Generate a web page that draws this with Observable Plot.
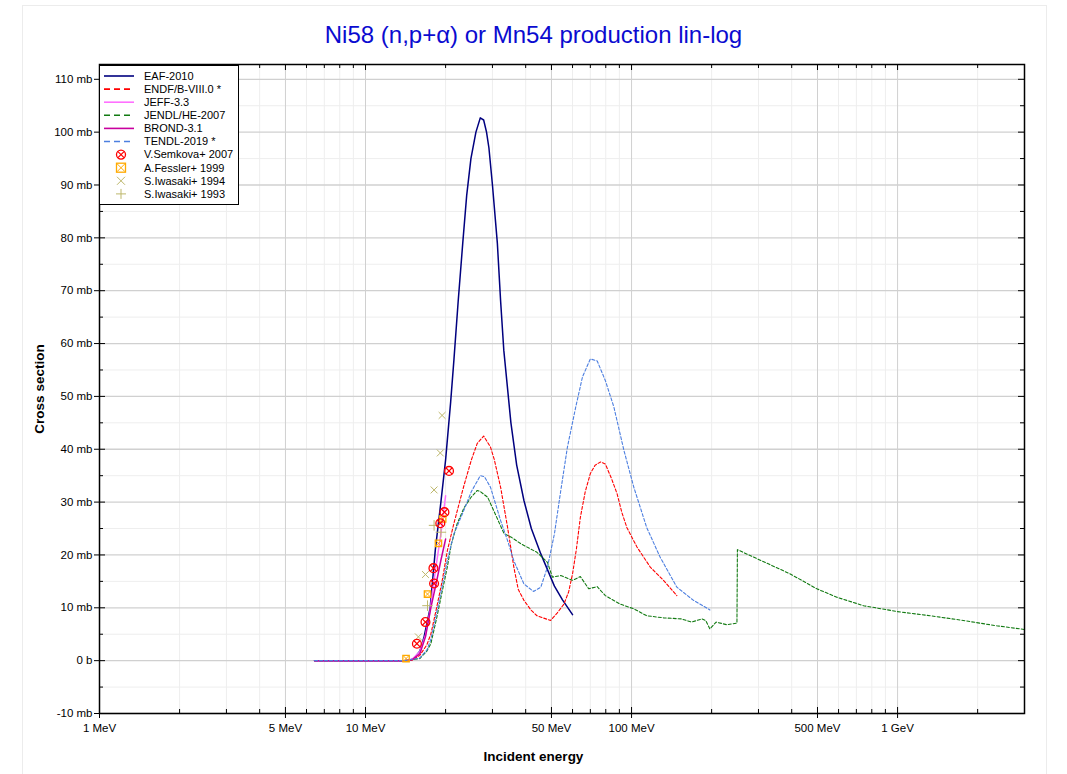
<!DOCTYPE html>
<html><head><meta charset="utf-8">
<script src="https://cdn.jsdelivr.net/npm/d3@7"></script>
<script src="https://cdn.jsdelivr.net/npm/@observablehq/plot@0.6"></script>
<style>
body{margin:0;background:#fff;font-family:"Liberation Sans",Arial,sans-serif;}
#wrap{position:relative;width:1067px;height:774px;overflow:hidden;background:#fff;}
#border{position:absolute;left:22px;top:5px;width:1023px;height:800px;border:1px solid #ececec;}
#title{position:absolute;left:0;top:21px;width:1067px;text-align:center;font-size:24px;color:#0b0bd0;}
#xlab{position:absolute;left:0;top:749px;width:1067px;text-align:center;font-size:13.5px;font-weight:bold;color:#000;}
#ylab{position:absolute;left:39px;top:389px;transform:translate(-50%,-50%) rotate(-90deg);font-size:13.5px;font-weight:bold;white-space:nowrap;color:#000;}
#chart{position:absolute;left:0;top:0;}
#legend{position:absolute;left:99px;top:65px;}
</style></head><body>
<div id="wrap">
<div id="border"></div>
<div id="chart"></div>
<div id="title">Ni58 (n,p+α) or Mn54 production lin-log</div>
<div id="xlab">Incident energy</div>
<div id="ylab">Cross section</div>
<div id="legend"></div>
</div>
<script>
// ---- data (energies in MeV, cross sections in mb) ----
const eafE = [6.43, 10, 14, 14.6, 15.2, 16, 16.6, 17.5, 18.3, 19.2, 20, 20.9, 21.5, 22.3, 23.2, 24, 24.9, 26, 27, 27.8, 28.5, 29.1, 30, 31.3, 32.2, 33.1, 35.2, 37, 39.4, 42, 45.6, 51.3, 55, 60];
const eafXS = [0, 0, 0, 0.05, 0.4, 1.8, 4.5, 10, 21, 30, 38, 49, 57, 68, 79, 88, 95, 100, 102.7, 102.3, 100, 97, 90, 79, 68, 58.7, 45, 37, 30.3, 25, 20.2, 14.1, 11.5, 8.7];

const endfE = [6.43, 14, 15, 16, 17, 17.6, 18.5, 19.4, 20.3, 21.5, 23.4, 25, 26.3, 27.8, 29.5, 30.5, 32.2, 34.2, 36.1, 37.5, 39.4, 42, 44.1, 49.6, 52.5, 55.7, 58, 60, 62, 64.2, 67, 70, 73, 76.5, 79.7, 84, 88.2, 92, 96, 104.8, 117.6, 131.8, 148];
const endfXS = [0, 0, 0.1, 1, 3, 5, 10, 15, 20.8, 26, 33, 38, 41.1, 42.5, 40.4, 38, 32.8, 25.2, 17.7, 13.5, 11.4, 9.5, 8.5, 7.6, 9, 10.7, 13, 16.4, 21, 27.1, 32, 35.4, 37, 37.6, 37.2, 34.5, 31.6, 28, 25.2, 21.5, 17.7, 15.2, 12.3];

const jeffE = [6.43, 14, 15, 16, 16.8, 17.5, 18.3, 19.2, 20];
const jeffXS = [0, 0, 0.3, 1.7, 4.8, 9.5, 17, 24, 31.2];

const jendlE = [6.43, 14, 16, 17, 17.6, 18.5, 19.4, 20.3, 21, 22.1, 23.5, 25, 26.3, 27, 28.8, 30.7, 33.2, 35.2, 38.4, 44.1, 48.3, 50.4, 54.2, 60, 64.2, 69, 74.3, 79.7, 90.6, 102, 114, 131.8, 153.9, 168, 184, 190, 197, 208, 228, 249, 250, 296, 395, 497, 591, 745, 993, 1325, 1766, 2354, 3000];
const jendlXS = [0, 0, 0.4, 1.8, 3.2, 8, 13, 17.7, 22, 25.9, 29, 31, 32.2, 32, 30.9, 27.8, 24, 23.4, 22.1, 20.5, 18.6, 15.8, 16.1, 15.2, 15.9, 13.6, 14, 12.3, 10.7, 9.8, 8.5, 8.1, 7.9, 7.3, 7.9, 7.6, 6, 7.3, 6.8, 7.1, 21, 19.3, 16.4, 13.6, 12, 10.4, 9.3, 8.5, 7.6, 6.6, 5.9];

const brondE = [6.43, 14, 15, 16, 16.8, 17.6, 18.5, 19.2, 20];
const brondXS = [0, 0, 0.2, 1.3, 4.5, 10, 15, 19, 23];

const tendlE = [6.43, 14, 16, 17, 17.6, 18.5, 19.4, 20.3, 21.5, 23.4, 25, 27, 28, 29.5, 32.2, 34.2, 36.1, 39.4, 42.8, 45.6, 48.3, 51.3, 54.2, 57.4, 61.7, 65.4, 70, 74.3, 79.7, 85.8, 93.6, 102, 114, 128, 148, 171, 197];
const tendlXS = [0, 0, 0.5, 2, 4, 9, 14, 19, 24, 28.4, 32, 35, 34.8, 32.8, 26.5, 22.7, 18.9, 14.5, 13.1, 13.9, 17.7, 24, 32.2, 40.4, 48, 53.7, 57.1, 56.7, 53, 48, 39.8, 32.8, 25.2, 19.6, 13.9, 11.4, 9.6];

const semkovaE = [20.6, 19.8, 19.1, 18.0, 18.1, 16.8, 15.6];
const semkovaXS = [35.9, 28.1, 26, 17.5, 14.6, 7.3, 3.2];
const fesslerE = [19.5, 18.8, 17.1, 14.2];
const fesslerXS = [26.8, 22.2, 12.6, 0.4];
const iwasaki94E = [19.4, 19.1, 18.1, 16.8, 15.8];
const iwasaki94XS = [46.4, 39.3, 32.3, 16.3, 4.5];
const iwasaki93E = [18.1, 19.2, 17.1];
const iwasaki93XS = [25.6, 24.3, 10.4];

const xMajorTicks = [1, 5, 10, 50, 100, 500, 1000];
const xMajorLabels = ["1 MeV", "5 MeV", "10 MeV", "50 MeV", "100 MeV", "500 MeV", "1 GeV"];
const xMinorTicks = [2, 3, 4, 6, 7, 8, 9, 20, 30, 40, 60, 70, 80, 90, 200, 300, 400, 600, 700, 800, 900, 2000];
const yMajorTicks = [-10, 0, 10, 20, 30, 40, 50, 60, 70, 80, 90, 100, 110];
const yMajorLabels = ["-10 mb", "0 b", "10 mb", "20 mb", "30 mb", "40 mb", "50 mb", "60 mb", "70 mb", "80 mb", "90 mb", "100 mb", "110 mb"];
const yMinorTicks = [-5, 5, 15, 25, 35, 45, 55, 65, 75, 85, 95, 105];

const seriesNames = ["EAF-2010", "ENDF/B-VIII.0 *", "JEFF-3.3", "JENDL/HE-2007", "BROND-3.1", "TENDL-2019 *"];
const pointNames = ["V.Semkova+ 2007", "A.Fessler+ 1999", "S.Iwasaki+ 1994", "S.Iwasaki+ 1993"];

// ---- build tables ----
const zip = (E, V) => E.map((e, i) => ({E: e, v: V[i]}));
const series = [
  {name: seriesNames[0], data: zip(eafE, eafXS), color: "#00007f", dash: null, w: 1.5},
  {name: seriesNames[1], data: zip(endfE, endfXS), color: "#ff0000", dash: "3,2", w: 1.1},
  {name: seriesNames[2], data: zip(jeffE, jeffXS), color: "#ff70ff", dash: null, w: 1.5},
  {name: seriesNames[3], data: zip(jendlE, jendlXS), color: "#127a12", dash: "3,2", w: 1.1},
  {name: seriesNames[4], data: zip(brondE, brondXS), color: "#c8009e", dash: null, w: 1.5},
  {name: seriesNames[5], data: zip(tendlE, tendlXS), color: "#4d7fe0", dash: "3,2", w: 1.1}
];
const semk = zip(semkovaE, semkovaXS), fess = zip(fesslerE, fesslerXS),
      iw94 = zip(iwasaki94E, iwasaki94XS), iw93 = zip(iwasaki93E, iwasaki93XS);
const xTicks = xMajorTicks.map((d, i) => ({v: d, label: xMajorLabels[i]}));
const yTicks = yMajorTicks.map((d, i) => ({v: d, label: yMajorLabels[i]}));

const W = 1067, Hh = 774, mL = 99, mR = 43, mT = 64, mB = 61;
const PW = W - mL - mR, PH = Hh - mT - mB;
const font = "Liberation Sans, Arial, sans-serif";
const khaki = "#bdb76b", orange = "#ffaa00", red = "#ff0000";

const chart = Plot.plot({
  width: W, height: Hh,
  marginLeft: mL, marginRight: mR, marginTop: mT, marginBottom: mB,
  x: {type: "log", domain: [1, 3000], axis: null},
  y: {domain: [-10, 112.8], axis: null},
  style: {fontFamily: font, fontSize: "11.5px", background: "transparent", color: "#000"},
  marks: [
    Plot.gridX(xMinorTicks, {stroke: "#eeeeee", strokeOpacity: 1}),
    Plot.gridY(yMinorTicks, {stroke: "#eeeeee", strokeOpacity: 1}),
    Plot.gridX(xMajorTicks, {stroke: "#d0d0d0", strokeOpacity: 1}),
    Plot.gridY(yMajorTicks, {stroke: "#d0d0d0", strokeOpacity: 1, strokeWidth: 1.3}),
    // ticks: major cross the axis, minor inside
    Plot.ruleX(xMajorTicks, {insetTop: PH - 6, insetBottom: -5, stroke: "#000"}),
    Plot.ruleX(xMinorTicks, {insetTop: PH - 4, stroke: "#000"}),
    Plot.ruleX(xMajorTicks, {insetBottom: PH - 6, stroke: "#000"}),
    Plot.ruleX(xMinorTicks, {insetBottom: PH - 4, stroke: "#000"}),
    Plot.ruleY(yMajorTicks, {insetRight: PW - 6, insetLeft: -5, stroke: "#000"}),
    Plot.ruleY(yMinorTicks, {insetRight: PW - 4, stroke: "#000"}),
    Plot.ruleY(yMajorTicks, {insetLeft: PW - 6, stroke: "#000"}),
    Plot.ruleY(yMinorTicks, {insetLeft: PW - 4, stroke: "#000"}),
    Plot.text(xTicks, {x: "v", text: "label", frameAnchor: "bottom", dy: 18, fontSize: 11.5, fill: "#000"}),
    Plot.text(yTicks, {y: "v", text: "label", frameAnchor: "left", textAnchor: "end", dx: -7, fontSize: 11.5, fill: "#000"}),
    ...series.map(s => Plot.line(s.data, {x: "E", y: "v", stroke: s.color, strokeWidth: s.w, strokeDasharray: s.dash})),
    Plot.dot(iw94, {x: "E", y: "v", symbol: "times", r: 3.2, stroke: khaki, strokeWidth: 1}),
    Plot.dot(iw93, {x: "E", y: "v", symbol: "plus", r: 3.5, stroke: khaki, strokeWidth: 1}),
    Plot.dot(fess, {x: "E", y: "v", symbol: "square", r: 3.6, stroke: orange, fill: "none", strokeWidth: 1.3}),
    Plot.dot(fess, {x: "E", y: "v", symbol: "times", r: 2.8, stroke: orange, strokeWidth: 1}),
    Plot.dot(semk, {x: "E", y: "v", r: 4.4, stroke: red, fill: "none", strokeWidth: 1.3}),
    Plot.dot(semk, {x: "E", y: "v", symbol: "times", r: 3, stroke: red, strokeWidth: 1.2}),
    Plot.frame({stroke: "#000", strokeWidth: 1.5})
  ]
});
document.getElementById("chart").appendChild(chart);

// ---- legend ----
const lg = d3.select("#legend").append("svg").attr("width", 140).attr("height", 140)
  .style("font-family", font).style("font-size", "11px");
lg.append("rect").attr("x", 0.5).attr("y", 0.5).attr("width", 139).attr("height", 139)
  .attr("fill", "#fff").attr("stroke", "#000");
const rowY = i => 11 + i * 13.1;
series.forEach((s, i) => {
  lg.append("line").attr("x1", 5).attr("x2", 35).attr("y1", rowY(i)).attr("y2", rowY(i))
    .attr("stroke", s.color).attr("stroke-width", 1.6)
    .attr("stroke-dasharray", s.dash ? "6,4" : null);
  lg.append("text").attr("x", 45).attr("y", rowY(i)).attr("dy", "0.35em").text(s.name);
});
const sym = [
  {name: pointNames[0], draw: (g, y) => {
    g.append("circle").attr("cx", 22).attr("cy", y).attr("r", 4.5).attr("fill", "none").attr("stroke", red).attr("stroke-width", 1.3);
    g.append("path").attr("d", `M19,${y-3}L25,${y+3}M25,${y-3}L19,${y+3}`).attr("stroke", red).attr("stroke-width", 1.2);
  }},
  {name: pointNames[1], draw: (g, y) => {
    g.append("rect").attr("x", 17.5).attr("y", y - 4.5).attr("width", 9).attr("height", 9).attr("fill", "none").attr("stroke", orange).attr("stroke-width", 1.3);
    g.append("path").attr("d", `M18,${y-4}L26,${y+4}M26,${y-4}L18,${y+4}`).attr("stroke", orange).attr("stroke-width", 1);
  }},
  {name: pointNames[2], draw: (g, y) => {
    g.append("path").attr("d", `M18,${y-4}L26,${y+4}M26,${y-4}L18,${y+4}`).attr("stroke", khaki).attr("stroke-width", 1);
  }},
  {name: pointNames[3], draw: (g, y) => {
    g.append("path").attr("d", `M17,${y}L27,${y}M22,${y-5}L22,${y+5}`).attr("stroke", khaki).attr("stroke-width", 1);
  }}
];
sym.forEach((s, j) => {
  const y = rowY(6 + j);
  s.draw(lg, y);
  lg.append("text").attr("x", 45).attr("y", y).attr("dy", "0.35em").text(s.name);
});
</script>
</body></html>
